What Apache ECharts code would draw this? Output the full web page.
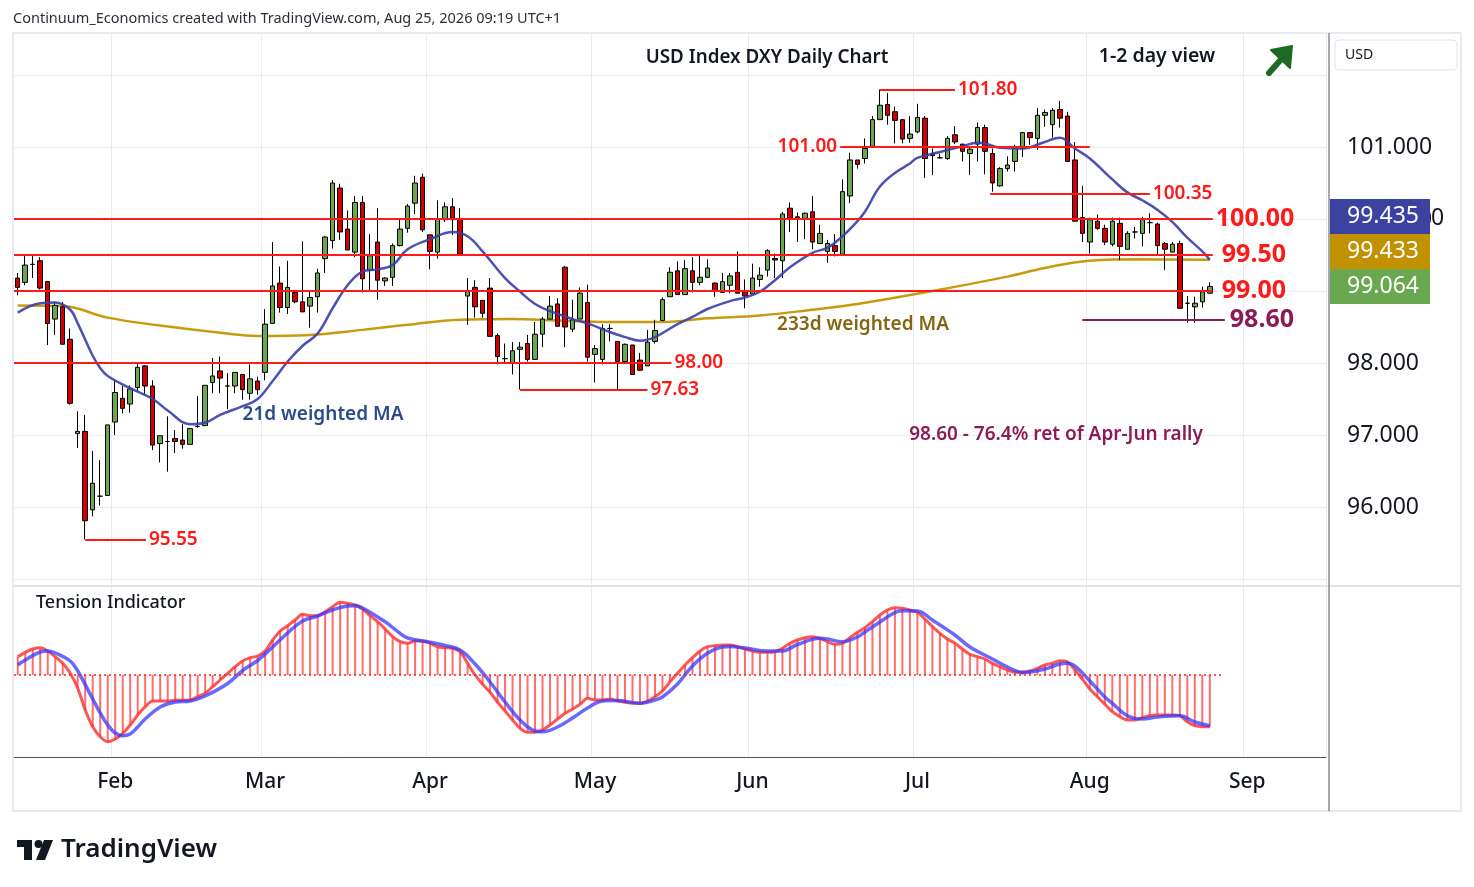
<!DOCTYPE html>
<html style="height: 100%">
<head>
    <meta charset="UTF-8">
    <title>USD Index DXY Daily Chart</title>
    <script src="https://cdn.jsdelivr.net/npm/echarts/dist/echarts.min.js"></script>
    <style>
        html, body { margin: 0; background: #fff; }
        #main { width: 1474px; height: 887px; }
    </style>
</head>
<body>
    <div id="main"></div>
    <script type="text/javascript">
        // trading days from Jan 14 2026, with empty slots after the last bar (Aug 25)
        var firstDay = '2026-01-14';
        var slotCount = 175;
        var monthNames = ['Jan', 'Feb', 'Mar', 'Apr', 'May', 'Jun', 'Jul', 'Aug', 'Sep', 'Oct', 'Nov', 'Dec'];

        var categories = [];
        var d = new Date(firstDay + 'T00:00:00Z');
        while (categories.length < slotCount) {
            var wd = d.getUTCDay();
            if (wd !== 0 && wd !== 6) categories.push(d.toISOString().slice(0, 10));
            d.setUTCDate(d.getUTCDate() + 1);
        }

        // daily bars: [open, close, low, high]
        var ohlc = [
            [99.18, 99.05, 98.94, 99.25], [99.12, 99.36, 99.08, 99.49], [99.37, 99.37, 99.18, 99.50], [99.42, 99.04, 99.02, 99.47],
            [99.13, 98.55, 98.25, 99.14], [98.61, 98.80, 98.39, 98.85], [98.78, 98.26, 98.26, 98.85], [98.33, 97.44, 97.42, 98.48],
            [97.02, 97.05, 96.82, 97.33], [97.05, 95.81, 95.55, 97.28], [95.96, 96.33, 95.87, 96.78], [96.15, 96.15, 96.02, 96.65],
            [96.16, 97.14, 96.16, 97.14], [97.18, 97.59, 97.00, 97.76], [97.51, 97.37, 97.30, 97.68], [97.43, 97.64, 97.31, 97.69],
            [97.66, 97.94, 97.60, 97.99], [97.96, 97.68, 97.56, 97.97], [97.68, 96.86, 96.79, 97.76], [96.88, 96.99, 96.62, 96.99],
            [96.91, 96.91, 96.49, 97.26], [96.95, 96.91, 96.75, 97.07], [96.93, 96.87, 96.81, 97.15], [96.87, 97.09, 96.87, 97.10],
            [97.12, 97.12, 97.10, 97.54], [97.13, 97.69, 97.13, 97.69], [97.73, 97.82, 97.58, 98.07], [97.89, 97.79, 97.58, 98.09],
            [97.68, 97.68, 97.36, 97.86], [97.68, 97.87, 97.58, 97.87], [97.84, 97.63, 97.49, 97.84], [97.58, 97.78, 97.49, 97.98],
            [97.75, 97.63, 97.56, 97.81], [97.87, 98.54, 97.76, 98.75], [98.55, 99.07, 98.55, 99.68], [99.11, 98.77, 98.70, 99.34],
            [98.77, 99.05, 98.68, 99.42], [98.98, 98.85, 98.83, 99.01], [98.85, 98.71, 98.71, 99.69], [98.79, 98.91, 98.49, 98.99],
            [98.92, 99.25, 98.70, 99.31], [99.45, 99.75, 99.25, 99.76], [99.70, 100.50, 99.59, 100.54], [100.43, 99.82, 99.71, 100.49],
            [99.86, 99.57, 99.57, 100.12], [99.54, 100.23, 99.47, 100.32], [100.23, 99.17, 98.98, 100.32], [99.29, 99.49, 99.01, 99.79],
            [99.68, 99.15, 98.88, 100.15], [99.14, 99.18, 99.07, 99.19], [99.19, 99.63, 99.07, 99.66], [99.63, 99.86, 99.62, 99.99],
            [99.87, 100.18, 99.81, 100.21], [100.22, 100.50, 100.07, 100.60], [100.58, 99.85, 99.82, 100.63], [99.78, 99.55, 99.30, 99.78],
            [99.54, 100.00, 99.45, 100.26], [99.99, 100.17, 99.96, 100.23], [100.17, 99.99, 99.78, 100.29], [100.00, 99.51, 99.51, 100.15],
            [98.93, 98.99, 98.53, 99.18], [99.05, 98.78, 98.63, 99.15], [98.87, 98.69, 98.63, 98.87], [99.04, 98.37, 98.37, 99.18],
            [98.38, 98.09, 97.98, 98.41], [98.06, 98.06, 98.00, 98.27], [98.00, 98.17, 97.84, 98.29], [98.19, 98.22, 97.63, 98.29],
            [98.27, 98.05, 98.02, 98.39], [98.05, 98.40, 98.05, 98.57], [98.40, 98.61, 98.22, 98.64], [98.61, 98.79, 98.61, 98.93],
            [98.82, 98.51, 98.51, 98.90], [99.33, 98.50, 98.22, 99.35], [98.47, 98.60, 98.43, 98.88], [98.61, 98.97, 98.61, 99.05],
            [98.84, 98.08, 98.02, 99.09], [98.12, 98.20, 97.73, 98.25], [98.05, 98.48, 97.98, 98.54], [98.48, 98.48, 98.30, 98.54],
            [98.30, 98.02, 97.63, 98.30], [98.02, 98.26, 98.02, 98.27], [98.25, 97.84, 97.84, 98.25], [98.04, 97.90, 97.89, 98.14],
            [97.96, 98.29, 97.96, 98.46], [98.30, 98.45, 98.27, 98.60], [98.59, 98.88, 98.59, 98.91], [98.92, 99.26, 98.92, 99.33],
            [99.28, 98.95, 98.95, 99.41], [98.95, 99.31, 98.95, 99.43], [99.28, 99.12, 98.98, 99.47], [99.12, 99.19, 99.08, 99.49],
            [99.19, 99.32, 99.18, 99.44], [99.11, 99.00, 98.92, 99.12], [98.98, 99.13, 98.98, 99.25], [99.08, 99.21, 98.97, 99.25],
            [99.26, 98.97, 98.97, 99.55], [98.99, 98.93, 98.76, 99.16], [98.96, 99.18, 98.96, 99.38], [99.16, 99.22, 99.06, 99.33],
            [99.29, 99.56, 99.20, 99.58], [99.45, 99.43, 99.18, 99.52], [99.42, 100.07, 99.18, 100.10], [100.15, 100.01, 99.82, 100.23],
            [100.03, 100.01, 99.68, 100.09], [100.01, 100.08, 99.72, 100.09], [100.10, 99.68, 99.58, 100.32], [99.66, 99.80, 99.65, 99.92],
            [99.55, 99.66, 99.39, 99.71], [99.63, 99.55, 99.48, 99.79], [99.51, 100.38, 99.51, 100.55], [100.32, 100.82, 100.22, 100.92],
            [100.82, 100.76, 100.70, 100.82], [100.84, 100.98, 100.77, 101.12], [101.01, 101.38, 101.01, 101.43], [101.38, 101.58, 101.38, 101.80],
            [101.59, 101.44, 101.31, 101.75], [101.49, 101.37, 101.05, 101.56], [101.38, 101.11, 101.05, 101.38], [101.12, 101.18, 101.06, 101.43],
            [101.21, 101.41, 101.19, 101.60], [101.40, 100.84, 100.57, 101.43], [100.91, 100.88, 100.61, 100.98], [100.85, 100.85, 100.84, 100.91],
            [100.84, 101.12, 100.82, 101.15], [101.17, 101.07, 101.04, 101.29], [101.04, 100.94, 100.80, 101.04], [100.91, 100.97, 100.61, 101.00],
            [101.04, 101.27, 100.80, 101.34], [101.27, 100.94, 100.62, 101.31], [100.91, 100.50, 100.38, 100.98], [100.46, 100.70, 100.45, 100.72],
            [100.70, 100.75, 100.66, 100.87], [100.80, 100.99, 100.66, 101.03], [100.98, 101.20, 100.86, 101.21], [101.20, 101.13, 101.03, 101.20],
            [101.12, 101.44, 100.96, 101.54], [101.44, 101.48, 101.28, 101.52], [101.31, 101.51, 101.13, 101.54], [101.52, 101.40, 101.27, 101.64],
            [101.43, 100.80, 100.80, 101.49], [100.82, 99.97, 99.97, 101.07], [100.02, 99.80, 99.68, 100.46], [99.68, 99.99, 99.52, 100.02],
            [99.97, 99.87, 99.85, 100.06], [99.87, 99.68, 99.64, 99.92], [99.65, 99.97, 99.62, 100.02], [99.94, 99.62, 99.43, 100.02],
            [99.58, 99.80, 99.58, 99.83], [99.82, 99.82, 99.73, 99.89], [99.80, 99.99, 99.62, 100.03], [99.95, 99.95, 99.80, 100.08],
            [99.93, 99.63, 99.49, 99.95], [99.66, 99.58, 99.29, 99.68], [99.54, 99.65, 99.54, 99.68], [99.66, 98.76, 98.76, 99.70],
            [98.83, 98.83, 98.56, 98.93], [98.78, 98.83, 98.56, 98.92], [98.85, 98.99, 98.77, 99.06], [98.97, 99.064, 98.96, 99.12]
        ];

        // moving averages: [bar index, value]
        var ma21 = [
            [0, 98.70], [3, 98.83], [5, 98.84], [7, 98.74], [8, 98.55], [10, 98.10], [11, 97.93], [12, 97.82], [15, 97.65],
            [18, 97.50], [20, 97.34], [23, 97.15], [25, 97.17], [27, 97.28], [30, 97.40], [32, 97.50], [34, 97.75], [36, 98.02],
            [38, 98.24], [40, 98.41], [42, 98.76], [44, 99.08], [46, 99.27], [48, 99.30], [50, 99.36], [52, 99.58], [55, 99.72],
            [58, 99.82], [60, 99.76], [62, 99.55], [65, 99.18], [67, 98.99], [69, 98.82], [71, 98.72], [74, 98.61], [76, 98.55],
            [79, 98.43], [81, 98.36], [83, 98.31], [85, 98.36], [88, 98.54], [90, 98.64], [92, 98.75], [95, 98.86], [97, 98.91],
            [99, 98.99], [101, 99.15], [103, 99.33], [106, 99.53], [108, 99.60], [110, 99.76], [112, 99.97], [113, 100.10],
            [115, 100.45], [117, 100.64], [119, 100.77], [120, 100.85], [123, 100.93], [126, 101.01], [128, 101.06], [129, 101.05],
            [131, 100.99], [134, 100.98], [137, 101.07], [139, 101.13], [141, 100.98], [143, 100.84], [146, 100.55], [148, 100.37],
            [150, 100.26], [152, 100.13], [154, 99.96], [156, 99.74], [158, 99.55], [159, 99.435]
        ];
        var ma233 = [
            [0, 98.80], [6, 98.79], [12, 98.63], [19, 98.52], [27, 98.42], [32, 98.375], [39, 98.39], [46, 98.46], [52, 98.53],
            [59, 98.60], [66, 98.61], [72, 98.59], [79, 98.57], [86, 98.57], [92, 98.62], [99, 98.66], [106, 98.74], [112, 98.82],
            [122, 99.00], [132, 99.20], [137, 99.32], [143, 99.42], [150, 99.44], [159, 99.433]
        ];

        // tension indicator (one value per bar) and its signal line
        var tension = [
            1.83, 2.27, 2.6, 2.73, 2.4, 1.83, 1.17, 0.17, -1.33, -3.5, -5.17, -6.17, -6.67, -6.4, -5.83, -5.0, -4.0, -3.17, -2.6, -2.6,
            -2.6, -2.53, -2.53, -2.5, -2.17, -1.83, -1.17, -0.5, 0.17, 0.83, 1.4, 1.73, 1.9, 2.4, 3.5, 4.4, 4.93, 5.5, 6.07, 5.93,
            5.93, 6.33, 6.83, 7.27, 7.17, 7.0, 6.6, 5.93, 5.33, 4.6, 3.83, 3.33, 3.17, 3.4, 3.4, 3.17, 2.83, 2.73, 2.67, 2.33,
            1.17, 0, -0.93, -1.73, -2.73, -3.6, -4.5, -5.33, -5.73, -5.73, -5.5, -5.0, -4.4, -3.83, -3.4, -2.93, -2.33, -2.5, -2.5, -2.4,
            -2.6, -2.73, -2.83, -2.83, -2.6, -2.17, -1.6, -0.67, 0.17, 1.0, 1.73, 2.4, 2.83, 2.93, 3.0, 3.0, 2.83, 2.6, 2.4, 2.27,
            2.27, 2.33, 2.67, 3.17, 3.5, 3.73, 3.83, 3.67, 3.33, 3.07, 3.17, 3.73, 4.27, 4.73, 5.33, 6.0, 6.5, 6.73, 6.67, 6.5,
            6.27, 5.6, 4.83, 4.17, 3.6, 3.17, 2.6, 2.07, 1.83, 1.6, 1.17, 0.83, 0.5, 0.27, 0.27, 0.4, 0.67, 1.0, 1.17, 1.43,
            1.33, 0.5, -0.4, -1.4, -2.17, -2.93, -3.67, -4.17, -4.5, -4.5, -4.27, -4.07, -4.0, -4.0, -4.0, -4.07, -4.67, -5.07, -5.17, -5.17
        ];
        var signal = [
            [0, 1.0], [1, 1.5], [3, 2.3], [4, 2.4], [5, 2.2], [7, 1.4], [8, 0.4], [10, -2.4], [11, -3.8], [12, -5.0], [13, -5.8],
            [14, -6.07], [15, -5.9], [16, -5.2], [17, -4.4], [19, -3.2], [21, -2.7], [23, -2.6], [25, -2.1], [28, -0.85], [30, 0.45],
            [32, 1.45], [34, 2.8], [36, 4.2], [38, 5.4], [40, 5.9], [42, 6.5], [44, 6.9], [45, 6.93], [46, 6.7], [48, 5.8], [49, 5.33],
            [51, 4.17], [52, 3.7], [55, 3.27], [57, 2.95], [59, 2.5], [61, 1.1], [63, -0.7], [65, -2.7], [67, -4.5], [69, -5.6],
            [70, -5.67], [72, -5.2], [74, -4.3], [76, -3.3], [78, -2.6], [80, -2.55], [83, -2.83], [85, -2.5], [86, -2.2], [88, -0.9],
            [90, 0.9], [92, 2.17], [94, 2.8], [95, 2.85], [97, 2.7], [100, 2.4], [102, 2.4], [104, 3.05], [107, 3.67], [108, 3.6],
            [110, 3.33], [112, 3.8], [113, 4.3], [115, 5.3], [117, 6.25], [118, 6.43], [120, 6.4], [122, 5.5], [123, 5.0], [125, 4.0],
            [127, 2.8], [130, 1.6], [132, 0.8], [134, 0.27], [135, 0.3], [137, 0.6], [139, 1.1], [140, 1.17], [141, 0.9], [143, -0.6],
            [145, -2.2], [146, -2.83], [148, -4.07], [150, -4.4], [152, -4.2], [155, -4.07], [157, -4.7], [159, -5.07]
        ];

        // support / resistance levels: value and the bar span they cover
        var levelValues = [101.80, 101.00, 100.35, 100.00, 99.50, 99.00, 98.60, 98.00, 97.63, 95.55];
        var levelFrom = [115, 109.7, 129.7, -0.5, -0.5, -0.5, 142, -0.5, 67, 9];
        var levelTo = [125, 143, 151, 159.4, 159.4, 159.4, 161, 87.2, 84, 17.1];

        var priceGridValues = [95, 96, 97, 98, 99, 100, 101, 102];
        var priceLabelValues = [96, 97, 98, 100, 101];

        var lastValues = [99.435, 99.433, 99.064];
        var lastColors = ['#3b42a0', '#c19100', '#6aa84f'];

        var FONT = '"Noto Sans", "Open Sans", sans-serif';
        var RED = '#ff1a1a';
        var PURPLE = '#8b1a56';

        function isMonthStart(index) {
            if (index === 0) return false;
            return categories[index].slice(5, 7) !== categories[index - 1].slice(5, 7);
        }

        var levelLines = levelValues.map(function (v, i) {
            var big = (v === 100 || v === 99.5 || v === 99 || v === 98.6);
            var color = v === 98.6 ? PURPLE : RED;
            var dist = 3;
            if (v === 99.5 || v === 99) dist = 9;
            if (v === 98.6) dist = 5;
            return [
                {
                    coord: [levelFrom[i], v],
                    lineStyle: { color: color, width: 2, type: 'solid' },
                    label: {
                        show: true,
                        position: v === 101 ? 'start' : 'end',
                        distance: dist,
                        formatter: v.toFixed(2),
                        color: color,
                        fontFamily: FONT,
                        fontWeight: big ? 'bold' : 600,
                        fontSize: big ? 25 : 19
                    }
                },
                { coord: [levelTo[i], v] }
            ];
        });

        var chartDom = document.getElementById('main');
        var myChart = echarts.init(chartDom);
        var option;

        var gridLeft = 14, gridWidth = 1312;

        option = {
            animation: false,
            backgroundColor: '#fff',
            textStyle: { fontFamily: FONT },
            grid: [
                { left: gridLeft, width: gridWidth, top: 33, height: 552 },
                { left: gridLeft, width: gridWidth, top: 587, height: 170 }
            ],
            xAxis: [
                {
                    type: 'category', gridIndex: 0, data: categories, boundaryGap: true,
                    axisLine: { show: false }, axisTick: { show: false }, axisLabel: { show: false },
                    splitLine: { show: true, interval: isMonthStart, lineStyle: { color: '#e8ecf1', width: 1 } }
                },
                {
                    type: 'category', gridIndex: 1, data: categories, boundaryGap: true,
                    axisLine: { show: true, onZero: false, lineStyle: { color: '#50535e', width: 1 } },
                    axisTick: { show: false },
                    axisLabel: {
                        interval: isMonthStart,
                        formatter: function (val) { return monthNames[parseInt(val.slice(5, 7), 10) - 1]; },
                        color: '#131722', fontSize: 21, fontWeight: 500, margin: 15
                    },
                    splitLine: { show: true, interval: isMonthStart, lineStyle: { color: '#e8ecf1', width: 1 } }
                },
                { type: 'value', gridIndex: 0, min: -0.5, max: slotCount - 0.5, show: false },
                { type: 'value', gridIndex: 1, min: -0.5, max: slotCount - 0.5, show: false }
            ],
            yAxis: [
                {
                    type: 'value', gridIndex: 0, position: 'right', min: 94.91667, max: 102.58333,
                    axisLine: { show: false },
                    axisTick: { show: false, customValues: priceGridValues },
                    splitLine: { show: true, lineStyle: { color: '#e8ecf1', width: 1 } },
                    axisLabel: {
                        customValues: priceLabelValues,
                        formatter: function (v) { return v.toFixed(3); },
                        color: '#131722', fontSize: 23, margin: 21, align: 'left'
                    }
                },
                {
                    type: 'value', gridIndex: 1, position: 'right', min: -8.2, max: 8.8,
                    axisLine: { show: false }, axisTick: { show: false }, axisLabel: { show: false },
                    splitLine: { show: false }
                }
            ],
            series: [
                {
                    name: 'DXY', type: 'candlestick', xAxisIndex: 0, yAxisIndex: 0,
                    data: ohlc, barWidth: 5,
                    itemStyle: {
                        color: '#6aa84f', color0: '#d20000',
                        borderColor: '#000', borderColor0: '#000', borderColorDoji: '#000',
                        borderWidth: 1
                    },
                    z: 3
                },
                {
                    name: '233d weighted MA', type: 'line', xAxisIndex: 0, yAxisIndex: 0,
                    data: ma233, smooth: 0.4, showSymbol: false,
                    lineStyle: { color: '#c89a10', width: 2.5 }, z: 2
                },
                {
                    name: '21d weighted MA', type: 'line', xAxisIndex: 0, yAxisIndex: 0,
                    data: ma21, smooth: 0.4, showSymbol: false,
                    lineStyle: { color: 'rgba(58,62,168,0.9)', width: 2.5 }, z: 4
                },
                {
                    name: 'levels', type: 'line', xAxisIndex: 2, yAxisIndex: 0,
                    data: [], showSymbol: false,
                    markLine: { silent: true, symbol: 'none', data: levelLines, z: 5 }
                },
                {
                    name: 'tension bars', type: 'bar', xAxisIndex: 1, yAxisIndex: 1,
                    data: tension, barWidth: 2,
                    itemStyle: { color: 'rgba(255,60,60,0.75)' }
                },
                {
                    name: 'tension', type: 'line', xAxisIndex: 1, yAxisIndex: 1,
                    data: tension, smooth: 0.3, showSymbol: false,
                    lineStyle: { color: 'rgba(255,55,55,0.85)', width: 3 }, z: 3
                },
                {
                    name: 'signal', type: 'line', xAxisIndex: 1, yAxisIndex: 1,
                    data: signal, smooth: 0.4, showSymbol: false,
                    lineStyle: { color: 'rgba(55,55,255,0.75)', width: 3.5 }, z: 4
                },
                {
                    name: 'zero', type: 'line', xAxisIndex: 3, yAxisIndex: 1,
                    data: [], showSymbol: false,
                    markLine: {
                        silent: true, symbol: 'none', label: { show: false },
                        lineStyle: { color: '#ff2020', type: [2, 3], width: 1.5 },
                        data: [[{ coord: [-0.5, 0] }, { coord: [160.5, 0] }]]
                    }
                }
            ],
            graphic: [
                // frame, pane separator, price scale border
                { type: 'rect', shape: { x: 13, y: 33, width: 1448, height: 778 }, style: { fill: 'none', stroke: '#e0e3eb', lineWidth: 1.5 }, z: 1 },
                { type: 'line', shape: { x1: 13, y1: 586, x2: 1461, y2: 586 }, style: { stroke: '#e0e3eb', lineWidth: 2 }, z: 1 },
                { type: 'line', shape: { x1: 1329, y1: 33, x2: 1329, y2: 811 }, style: { stroke: '#50535e', lineWidth: 1 }, z: 10 },
                { type: 'rect', shape: { x: 1335, y: 40, width: 122, height: 30, r: 4 }, style: { fill: '#fff', stroke: '#e0e3eb', lineWidth: 1 }, z: 10 },
                { type: 'text', style: { text: 'USD', x: 1345, y: 55, font: '14px ' + FONT, fill: '#131722', textVerticalAlign: 'middle' }, z: 11 },

                // header and titles
                { type: 'text', style: { text: 'Continuum_Economics created with TradingView.com, Aug 25, 2026 09:19 UTC+1', x: 13, y: 19, font: '14.5px ' + FONT, fill: '#2a2e39', textVerticalAlign: 'middle' }, z: 11 },
                { type: 'text', style: { text: 'USD Index DXY Daily Chart', x: 767, y: 58, font: '600 18.8px ' + FONT, fill: '#131722', textAlign: 'center', textVerticalAlign: 'middle' }, z: 11 },
                { type: 'text', style: { text: '1-2 day view', x: 1157, y: 56, font: '600 19.5px ' + FONT, fill: '#131722', textAlign: 'center', textVerticalAlign: 'middle' }, z: 11 },

                // outlook arrow
                { type: 'line', shape: { x1: 1269, y1: 73, x2: 1284, y2: 56 }, style: { stroke: '#1d6a24', lineWidth: 6, lineCap: 'round' }, z: 11 },
                { type: 'polygon', shape: { points: [[1271, 50], [1292, 46], [1290, 68]] }, style: { fill: '#1d6a24', stroke: '#1d6a24', lineWidth: 2, lineJoin: 'round' }, z: 11 },

                // annotations
                { type: 'text', style: { text: '21d weighted MA', x: 323, y: 415, font: '600 19px ' + FONT, fill: '#2b4a8b', textAlign: 'center', textVerticalAlign: 'middle' }, z: 11 },
                { type: 'text', style: { text: '233d weighted MA', x: 863, y: 325, font: '600 19px ' + FONT, fill: '#836512', textAlign: 'center', textVerticalAlign: 'middle' }, z: 11 },
                { type: 'text', style: { text: '98.60 - 76.4% ret of Apr-Jun rally', x: 1056, y: 435, font: '600 19px ' + FONT, fill: PURPLE, textAlign: 'center', textVerticalAlign: 'middle' }, z: 11 },
                { type: 'text', style: { text: 'Tension Indicator', x: 36, y: 603, font: '500 18px ' + FONT, fill: '#131722', textVerticalAlign: 'middle' }, z: 11 },
                // tail of a price-scale label peeking out behind the tags
                { type: 'text', style: { text: '0', x: 1431, y: 218, font: '23px ' + FONT, fill: '#131722', textVerticalAlign: 'middle' }, z: 11 },

                // TradingView logo
                { type: 'rect', shape: { x: 17, y: 840, width: 15, height: 7 }, style: { fill: '#131722' }, z: 11 },
                { type: 'rect', shape: { x: 24, y: 840, width: 8, height: 20 }, style: { fill: '#131722' }, z: 11 },
                { type: 'circle', shape: { cx: 38.5, cy: 844, r: 4 }, style: { fill: '#131722' }, z: 11 },
                { type: 'polygon', shape: { points: [[44, 840], [53, 840], [45, 860], [36, 860]] }, style: { fill: '#131722' }, z: 11 },
                { type: 'text', style: { text: 'TradingView', x: 61, y: 850, font: '600 26px ' + FONT, fill: '#131722', textVerticalAlign: 'middle' }, z: 11 }
            ]
        };

        myChart.setOption(option);

        // last-value tags on the price scale, stacked so they do not overlap
        var tags = lastValues.map(function (v, i) {
            return { v: v, color: lastColors[i], y: myChart.convertToPixel({ yAxisIndex: 0 }, v) };
        });
        tags.sort(function (a, b) { return b.y - a.y; });
        var tagH = 35;
        for (var i = 1; i < tags.length; i++) {
            if (tags[i].y > tags[i - 1].y - tagH) tags[i].y = tags[i - 1].y - tagH;
        }
        var tagElements = [];
        tags.forEach(function (t) {
            tagElements.push({
                type: 'rect', shape: { x: 1330, y: t.y - tagH / 2, width: 100, height: tagH },
                style: { fill: t.color }, z: 20
            });
            tagElements.push({
                type: 'text', style: {
                    text: t.v.toFixed(3), x: 1383, y: t.y, font: '23px ' + FONT, fill: '#fff',
                    textAlign: 'center', textVerticalAlign: 'middle'
                }, z: 21
            });
        });
        myChart.setOption({ graphic: option.graphic.concat(tagElements) });
    </script>
</body>
</html>
